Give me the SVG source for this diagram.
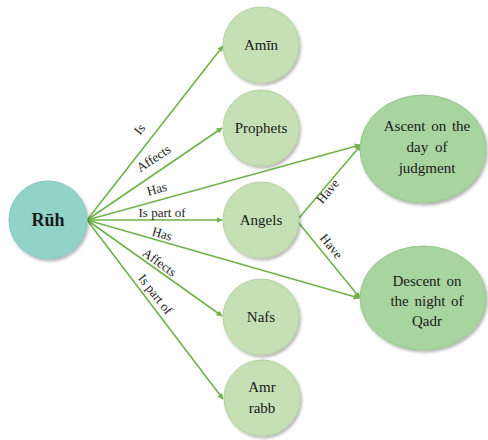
<svg xmlns="http://www.w3.org/2000/svg" width="488" height="440" viewBox="0 0 488 440">
  <style>
    text { font-family: 'Liberation Serif', 'DejaVu Serif', serif; }
    .edge { stroke: #6fb24a; stroke-width: 1.6; fill: none; marker-end: url(#arrow); }
    .lbl { font-size: 13px; fill: #222; text-anchor: middle; }
    .txt { font-size: 15px; fill: #1a1a1a; text-anchor: middle; }
    .small { fill: #c5e0b4; stroke: #b3d29e; stroke-width: 1; filter: url(#shadow); }
    .big { fill: #a8d4a0; stroke: #96c68c; stroke-width: 1; filter: url(#shadow); }
    .root { fill: #92d3c9; stroke: #84c6bc; stroke-width: 1; filter: url(#shadow); }
  </style>
  <defs>
    <marker id="arrow" viewBox="0 0 10 10" refX="9" refY="5" markerWidth="6" markerHeight="6" orient="auto" markerUnits="userSpaceOnUse">
      <path d="M0,0 L10,5 L0,10 z" fill="#6fb24a"/>
    </marker>
    <filter id="shadow" x="-20%" y="-20%" width="150%" height="150%">
      <feDropShadow dx="1.5" dy="2" stdDeviation="1.5" flood-color="#000" flood-opacity="0.3"/>
    </filter>
  </defs>

  <rect width="488" height="440" fill="#ffffff"/>

  <g id="connectors">
    <line class="edge" x1="87" y1="220" x2="223" y2="46"/>
    <line class="edge" x1="87" y1="220" x2="222" y2="128"/>
    <line class="edge" x1="87" y1="220" x2="360" y2="145"/>
    <line class="edge" x1="87" y1="220" x2="222" y2="220"/>
    <line class="edge" x1="87" y1="220" x2="359" y2="298"/>
    <line class="edge" x1="87" y1="220" x2="222" y2="316"/>
    <line class="edge" x1="87" y1="220" x2="223" y2="399"/>
    <line class="edge" x1="299" y1="218" x2="361" y2="145"/>
    <line class="edge" x1="298" y1="222" x2="360" y2="298"/>

    <text class="lbl" transform="translate(143,132) rotate(-51.7)">Is</text>
    <text class="lbl" transform="translate(156,162) rotate(-33.7)">Affects</text>
    <text class="lbl" transform="translate(158,193) rotate(-15.2)">Has</text>
    <text class="lbl" transform="translate(162,217)">Is part of</text>
    <text class="lbl" transform="translate(161,238) rotate(16)">Has</text>
    <text class="lbl" transform="translate(157,266) rotate(36)">Affects</text>
    <text class="lbl" transform="translate(152,297) rotate(51.7)">Is part of</text>
    <text class="lbl" transform="translate(331,194) rotate(-50)">Have</text>
    <text class="lbl" transform="translate(328,249) rotate(51)">Have</text>
  </g>

  <g id="ruh">
    <circle class="root" cx="48" cy="220" r="39"/>
    <text x="48" y="226" text-anchor="middle" font-size="18" font-weight="bold" fill="#1a1a1a">Rūh</text>
  </g>

  <g id="amin">
    <circle class="small" cx="261" cy="45" r="38"/>
    <text class="txt" x="261" y="50">Amīn</text>
  </g>

  <g id="prophets">
    <circle class="small" cx="261" cy="128" r="38"/>
    <text class="txt" x="261" y="133">Prophets</text>
  </g>

  <g id="angels">
    <circle class="small" cx="261" cy="220" r="38"/>
    <text class="txt" x="261" y="225">Angels</text>
  </g>

  <g id="nafs">
    <circle class="small" cx="261" cy="317" r="38"/>
    <text class="txt" x="261" y="322">Nafs</text>
  </g>

  <g id="amr-rabb">
    <circle class="small" cx="262" cy="398" r="38"/>
    <text class="txt" x="262" y="392">Amr</text>
    <text class="txt" x="262" y="413">rabb</text>
  </g>

  <g id="ascent">
    <ellipse class="big" cx="423" cy="149" rx="63" ry="54"/>
    <text class="txt" x="427" y="131" word-spacing="2">Ascent on the</text>
    <text class="txt" x="427" y="152" word-spacing="3">day of</text>
    <text class="txt" x="427" y="173">judgment</text>
  </g>

  <g id="descent">
    <ellipse class="big" cx="423" cy="298" rx="63" ry="52"/>
    <text class="txt" x="427" y="286" word-spacing="2">Descent on</text>
    <text class="txt" x="427" y="306" word-spacing="2">the night of</text>
    <text class="txt" x="427" y="326">Qadr</text>
  </g>
</svg>
